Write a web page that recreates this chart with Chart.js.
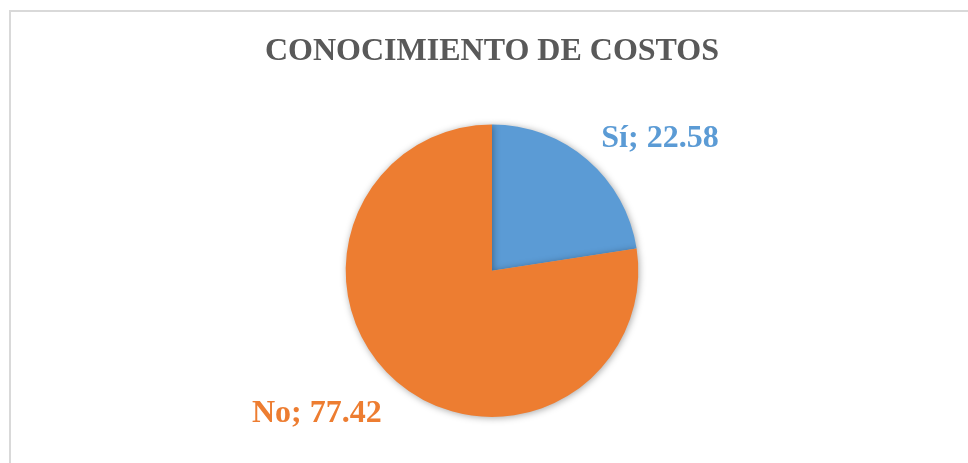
<!DOCTYPE html>
<html>
<head>
<meta charset="utf-8">
<script src="https://cdn.jsdelivr.net/npm/chart.js@4"></script>
<style>
  html, body { margin: 0; padding: 0; background: #fff; }
  #frame { position: absolute; left: 9px; top: 10px; width: 980px; height: 480px; border: 2px solid #d9d9d9; }
  #wrap { position: absolute; left: 0; top: 0; width: 968px; height: 463px; }
</style>
</head>
<body>
<div id="frame"></div>
<div id="wrap"><canvas id="myChart"></canvas></div>
<script>
var categories = ["Sí", "No"];
var values = [22.58, 77.42];
var colors = ['#5B9BD5', '#ED7D31'];

// labels outside the slices, "Categoria; valor"
var outsideLabels = {
  id: 'outsideLabels',
  afterDatasetsDraw: function(chart) {
    var ctx = chart.ctx;
    var meta = chart.getDatasetMeta(0);
    ctx.save();
    ctx.font = 'bold 32px "Liberation Serif", "Times New Roman", serif';
    meta.data.forEach(function(arc, i) {
      var mid = (arc.startAngle + arc.endAngle) / 2;
      var cx = Math.cos(mid), sy = Math.sin(mid);
      var x = arc.x + cx * arc.outerRadius + (cx >= 0 ? 14 : -15);
      var y = arc.y + sy * arc.outerRadius + (sy >= 0 ? 16 : -13);
      ctx.fillStyle = colors[i];
      ctx.textAlign = cx >= 0 ? 'left' : 'right';
      ctx.textBaseline = sy >= 0 ? 'top' : 'alphabetic';
      ctx.fillText(categories[i] + '; ' + values[i].toFixed(2), x, y);
    });
    ctx.restore();
  }
};

// soft shadow under the pie
var pieShadow = {
  id: 'pieShadow',
  beforeDatasetsDraw: function(chart) {
    var ctx = chart.ctx;
    ctx.save();
    ctx.shadowColor = 'rgba(0,0,0,0.35)';
    ctx.shadowBlur = 7;
    ctx.shadowOffsetX = 1;
    ctx.shadowOffsetY = 1;
  },
  afterDatasetsDraw: function(chart) {
    chart.ctx.restore();
  }
};

var ctx = document.getElementById("myChart").getContext('2d');
var myChart = new Chart(ctx, {
  type: 'pie',
  data: {
    labels: categories,
    datasets: [{
      data: values,
      backgroundColor: colors,
      borderWidth: 0
    }]
  },
  options: {
    responsive: true,
    maintainAspectRatio: false,
    animation: false,
    layout: { padding: { left: 16, right: 0, top: 0, bottom: 46 } },
    plugins: {
      legend: { display: false },
      tooltip: { enabled: false },
      title: {
        display: true,
        text: 'CONOCIMIENTO DE COSTOS',
        color: '#595959',
        font: { family: '"Liberation Serif", "Times New Roman", serif', size: 32, weight: 'bold', lineHeight: 1.2 },
        padding: { top: 33, bottom: 53 }
      }
    }
  },
  plugins: [pieShadow, outsideLabels]
});
</script>
</body>
</html>
